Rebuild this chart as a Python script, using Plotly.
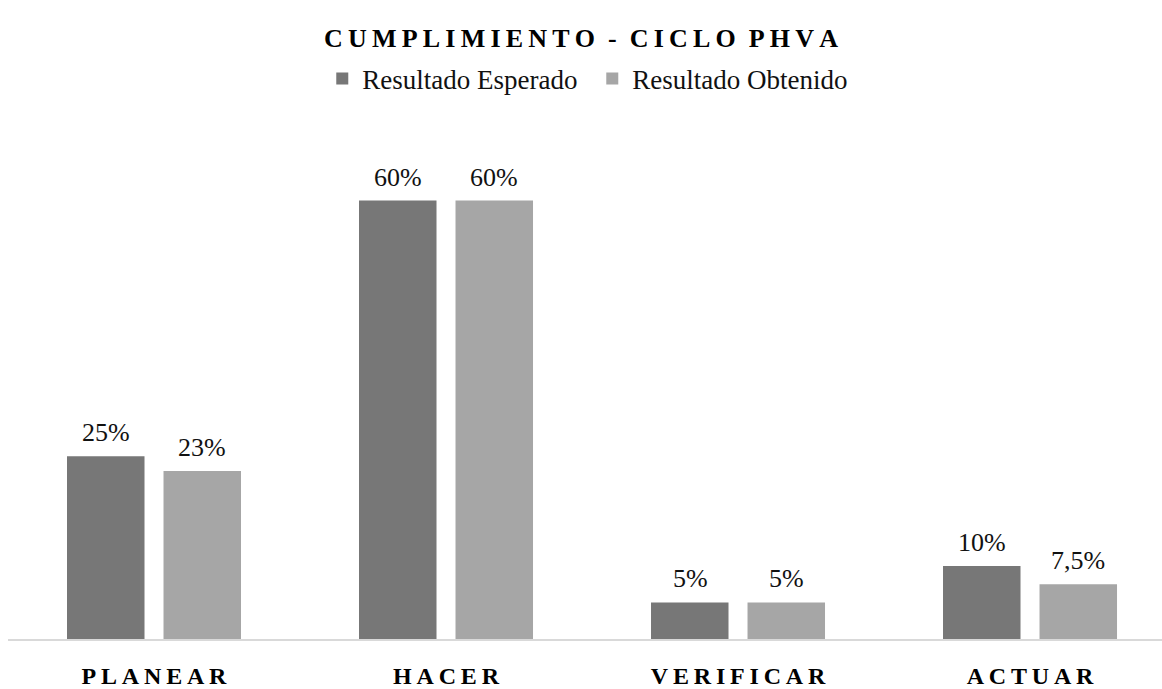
import plotly.graph_objects as go

categories = ["PLANEAR", "HACER", "VERIFICAR", "ACTUAR"]
tick_labels = ["P L A N E A R", "H A C E R", "V E R I F I C A R", "A C T U A R"]
esperado = [25, 60, 5, 10]
obtenido = [23, 60, 5, 7.5]
series_names = ["Resultado Esperado", "Resultado Obtenido"]
series_colors = ["#777777", "#a6a6a6"]

THIN = "\u2009"
NB = "\u00a0"
tick_text = [t.replace(" ", THIN) for t in tick_labels]
title_text = (THIN.join(list("CUMPLIMIENTO")) + NB + NB + "-" + NB + NB
              + THIN.join(list("CICLO")) + NB + NB + THIN.join(list("PHVA")))


def fmt(v):
    s = f"{v:g}".replace(".", ",")
    return s + "%"


SERIF = "Liberation Serif"

fig = go.Figure()
for name, vals, col in zip(series_names, [esperado, obtenido], series_colors):
    fig.add_trace(go.Bar(
        x=categories, y=vals, name=name,
        marker=dict(color=col, line=dict(width=0)),
        hoverinfo="skip",
    ))

annotations = []
for vals, shift in zip([esperado, obtenido], [-48, 48]):
    for c, v in zip(categories, vals):
        annotations.append(dict(
            x=c, y=v, xref="x", yref="y", text=fmt(v), showarrow=False,
            xshift=shift, yshift=7, yanchor="bottom",
            font=dict(family=SERIF, size=26, color="#111111"),
        ))

fig.update_layout(
    width=1162, height=689,
    paper_bgcolor="white", plot_bgcolor="white",
    margin=dict(l=8, r=0, t=164, b=45),
    barmode="group", bargap=0.339, bargroupgap=0.197,
    title=dict(
        text=f"<b>{title_text}</b>", x=0.5, xref="container", xanchor="center",
        y=1 - 38 / 689, yref="container", yanchor="middle",
        font=dict(family=SERIF, size=26, color="#000000"),
    ),
    legend=dict(
        orientation="h", xref="container", yref="container",
        x=0.5097, xanchor="center", y=1 - 79 / 689, yanchor="middle",
        font=dict(family=SERIF, size=27, color="#111111"),
        entrywidth=225,
        itemclick=False, itemdoubleclick=False,
    ),
    showlegend=True,
    annotations=annotations,
    font=dict(family=SERIF),
)
fig.update_xaxes(
    range=[-0.5, 3.452], showline=True, linecolor="#d9d9d9", linewidth=1.5,
    showgrid=False, zeroline=False, ticks="", tickmode="array",
    tickvals=categories, ticktext=[f"<b>{t}</b>" for t in tick_text],
    tickfont=dict(family=SERIF, size=24, color="#000000"),
    ticklabelstandoff=14, fixedrange=True,
)
fig.update_yaxes(
    range=[0, 65], showgrid=False, zeroline=False, showticklabels=False,
    showline=False, fixedrange=True,
)

fig.write_html("out.html", config={"displayModeBar": False},
               post_script="document.body.style.margin='0';document.body.style.overflow='hidden';")
